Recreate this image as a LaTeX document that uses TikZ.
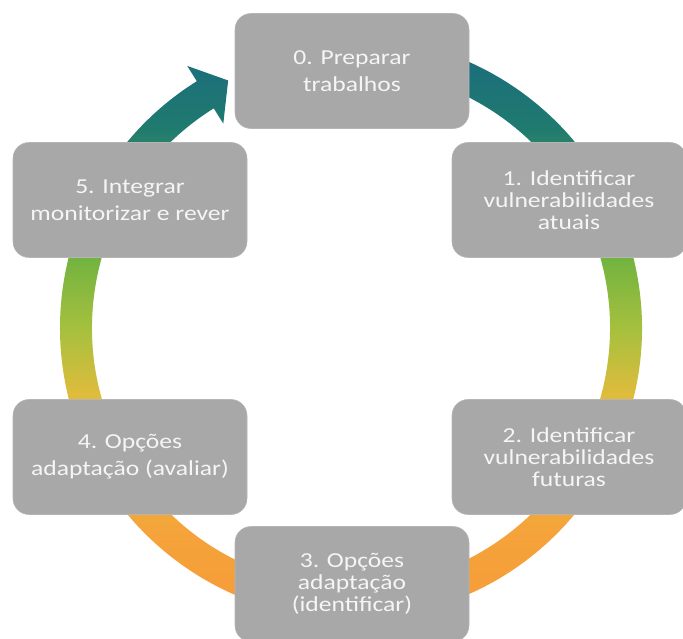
\documentclass[tikz,border=0pt]{standalone}
\usepackage{fontspec}
\setmainfont{Carlito}[FakeStretch=1.2]
\usepackage{tikz}
\usetikzlibrary{calc}
\definecolor{box_gray}{RGB}{168, 168, 168}
\definecolor{box_text}{RGB}{245, 245, 245}
\definecolor{ring_c0}{RGB}{26, 104, 128}
\definecolor{ring_c1}{RGB}{31, 122, 112}
\definecolor{ring_c2}{RGB}{110, 178, 64}
\definecolor{ring_c3}{RGB}{165, 192, 62}
\definecolor{ring_c4}{RGB}{231, 187, 60}
\definecolor{ring_c5}{RGB}{245, 162, 58}
\definecolor{ring_c6}{RGB}{247, 155, 58}
\pgfdeclareverticalshading{ringshade}{100bp}{color(0bp)=(ring_c6); color(26bp)=(ring_c6);
  color(33bp)=(ring_c5); color(44bp)=(ring_c4); color(50bp)=(ring_c3);
  color(56bp)=(ring_c2); color(66bp)=(ring_c1); color(74bp)=(ring_c0); color(100bp)=(ring_c0)}
\tikzset{
  stepbox/.style={rectangle, rounded corners=12pt, fill=box_gray, draw=box_gray!85!white,
    text=box_text, align=center, minimum width=234*0.75pt, minimum height=115*0.75pt,
    font=\fontsize{16}{20}\selectfont},
  threeline/.style={font=\fontsize{16}{16.5}\selectfont}
}
\begin{document}
\begin{tikzpicture}[x=0.75pt, y=0.75pt]
\useasboundingbox (0,0) rectangle (683,639);
\coordinate (c) at (351,311);

% ring with arrow head
\shade[shading=ringshade] ($(c)+(100:291)$) arc[start angle=100, end angle=-238, radius=291]
  -- ($(c)+(122:309)$) -- ($(c)+(122:275)+(32:27)$) -- ($(c)+(122:241)$)
  -- ($(c)+(122:259)$) arc[start angle=-238, end angle=100, radius=259] -- cycle;

\node[stepbox] (prep) at (352,568) {0. Preparar\\trabalhos};
\node[stepbox, threeline] (vulnatu) at (569,439) {1. Identificar\\vulnerabilidades\\atuais};
\node[stepbox, threeline] (vulnfut) at (569,182) {2. Identificar\\vulnerabilidades\\futuras};
\node[stepbox, threeline] (opcident) at (352,55) {3. Opções\\adaptação\\(identificar)};
\node[stepbox] (opcaval) at (130,182) {4. Opções\\adaptação (avaliar)};
\node[stepbox] (integrar) at (130,439) {5. Integrar\\monitorizar e rever};
\end{tikzpicture}
\end{document}
